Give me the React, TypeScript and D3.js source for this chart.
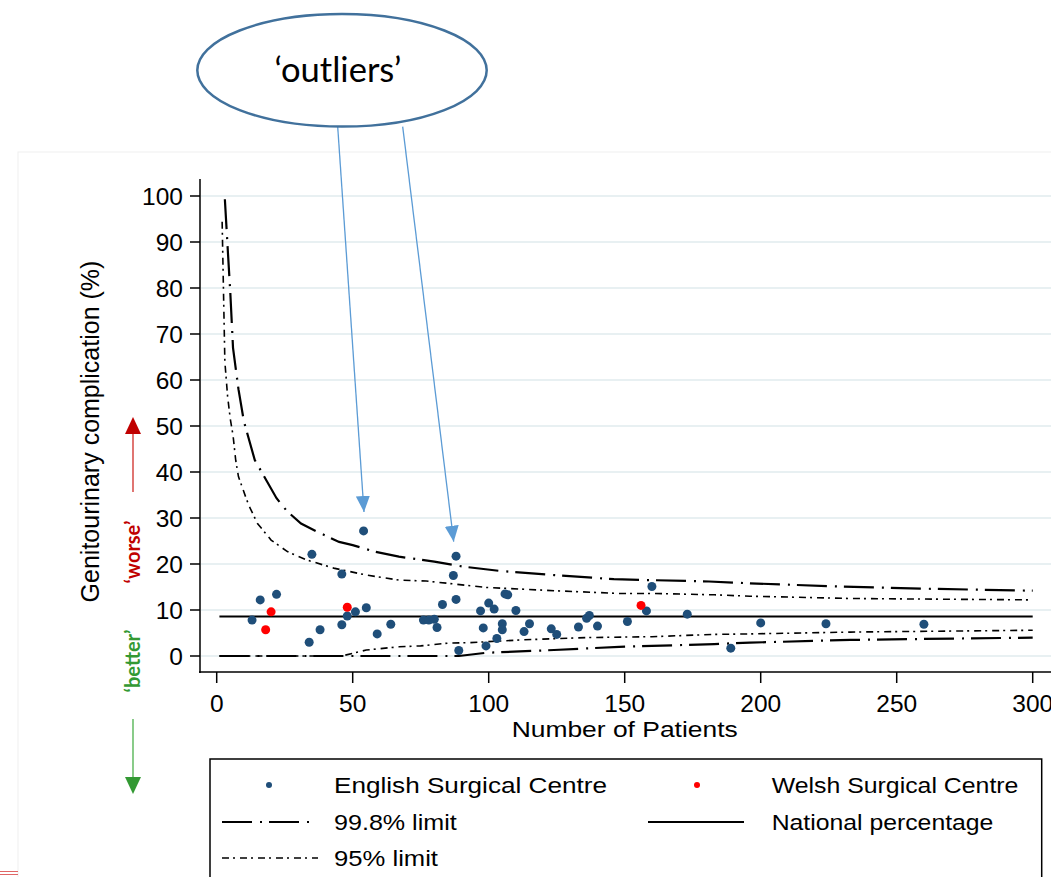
import React from "react";
import * as d3 from "d3";

// centres: number of patients and complication %
const englishN = [13, 16, 22, 35, 54, 46, 51, 55, 48, 46, 38, 34, 59, 64, 76, 78, 80, 81, 83, 88, 87, 88, 89, 97, 100, 102, 98, 99, 103, 105, 105, 106, 107, 110, 113, 115, 123, 125, 133, 136, 137, 140, 151, 158, 160, 173, 189, 200, 224, 260];
const englishPct = [7.8, 12.2, 13.4, 22.1, 27.2, 17.8, 9.6, 10.5, 8.7, 6.8, 5.7, 3.0, 4.8, 6.9, 7.8, 7.8, 8.0, 6.2, 11.2, 21.7, 17.5, 12.3, 1.2, 9.8, 11.5, 10.2, 6.1, 2.2, 3.8, 7.0, 5.7, 13.5, 13.3, 9.9, 5.3, 7.0, 5.9, 4.7, 6.3, 8.2, 8.8, 6.5, 7.5, 9.8, 15.1, 9.1, 1.7, 7.2, 7.0, 6.9];

const welshN = [20, 18, 48, 156];
const welshPct = [9.6, 5.7, 10.6, 11.0];

const nationalPct = 8.6;

// control limits
const upper998N = [3, 4, 5, 6, 8, 10, 14, 17, 22, 24, 26, 31, 37, 45, 50, 58, 67, 80, 91, 104, 124, 146, 159, 181, 196, 229, 263, 300];
const upper998Pct = [99.3, 89, 79, 67, 58, 51, 42.6, 39.5, 34.3, 32.8, 31.4, 28.8, 27, 24.8, 24.1, 22.7, 21.6, 20.5, 19.4, 18.5, 17.6, 16.7, 16.5, 16.2, 15.8, 15.1, 14.6, 14.2];
const lower998N = [1, 89, 99, 124, 148, 160, 183, 196, 233, 300];
const lower998Pct = [0, 0, 0.7, 1.3, 2.0, 2.2, 2.6, 2.9, 3.5, 4.0];

const upper95N = [2, 3, 4, 5, 6, 7, 8, 11, 12, 15, 20, 26, 33, 43, 55, 67, 77, 85, 99, 124, 148, 160, 183, 196, 233, 300];
const upper95Pct = [94.4, 64, 56.5, 51.5, 48, 42.5, 39, 34, 32.5, 28.8, 25.2, 22.7, 20.9, 19.1, 17.6, 16.5, 16.3, 15.8, 14.9, 14.2, 13.6, 13.6, 13.3, 13.0, 12.5, 12.2];
const lower95N = [1, 46, 55, 67, 75, 85, 93, 112, 136, 160, 183, 196, 233, 300];
const lower95Pct = [0, 0, 1.3, 2.0, 2.2, 2.8, 2.9, 3.5, 4.0, 4.2, 4.7, 4.8, 5.2, 5.6];

const xTicks = [0, 50, 100, 150, 200, 250, 300];
const yTicks = [0, 10, 20, 30, 40, 50, 60, 70, 80, 90, 100];

const ENGLISH = "#1f4e79";
const WELSH = "#ff0000";
const DASH998 = "30 8 2 7";
const DASH95 = "7 4 2 5";
const FONT = "'Liberation Sans', Arial, sans-serif";

const App = () => {
  const x = d3.scaleLinear().domain([0, 300]).range([216.7, 1032.7]);
  const y = d3.scaleLinear().domain([0, 100]).range([656, 196]);

  const line = d3
    .line<[number, number]>()
    .x((d) => x(d[0]))
    .y((d) => y(d[1]));
  const zip = (a: number[], b: number[]) => a.map((v, i) => [v, b[i]] as [number, number]);

  return (
    <svg
      width={1051}
      height={877}
      style={{ position: "absolute", left: 0, top: 0, background: "#fff" }}
      fontFamily={FONT}
    >
      <defs>
        <marker id="blueHead" viewBox="0 0 16 14" refX="16" refY="7" markerWidth="16" markerHeight="14" markerUnits="userSpaceOnUse" orient="auto">
          <path d="M0,0 L16,7 L0,14 Z" fill="#5b9bd5" />
        </marker>
      </defs>

      {/* faint graph region outline */}
      <rect x={18} y={152} width={1100} height={800} fill="none" stroke="#f0f0f0" />
      <line x1={0} x2={18} y1={871.5} y2={871.5} stroke="#e06666" />
      <line x1={0} x2={18} y1={874.5} y2={874.5} stroke="#e06666" />

      {/* gridlines */}
      {yTicks.map((t) => (
        <line key={"g" + t} x1={201} x2={1051} y1={y(t)} y2={y(t)} stroke="#e8f0f2" strokeWidth={2} />
      ))}

      {/* axes */}
      <line x1={200} x2={200} y1={179} y2={673} stroke="#000" strokeWidth={1.5} />
      <line x1={199} x2={1051} y1={672} y2={672} stroke="#000" strokeWidth={1.5} />
      {yTicks.map((t) => (
        <g key={"y" + t}>
          <line x1={190} x2={200} y1={y(t)} y2={y(t)} stroke="#000" strokeWidth={1.5} />
          <text x={183} y={y(t) + 9} textAnchor="end" fontSize={24.5}>{t}</text>
        </g>
      ))}
      {xTicks.map((t) => (
        <g key={"x" + t}>
          <line x1={x(t)} x2={x(t)} y1={672} y2={683} stroke="#000" strokeWidth={1.5} />
          <text x={x(t)} y={711.5} textAnchor="middle" fontSize={24.5}>{t}</text>
        </g>
      ))}
      <text x={x(150)} y={736.7} textAnchor="middle" fontSize={22.5} textLength={226} lengthAdjust="spacingAndGlyphs">
        Number of Patients
      </text>
      <text transform="translate(99,431.5) rotate(-90)" textAnchor="middle" fontSize={25}>
        Genitourinary complication (%)
      </text>

      {/* limits */}
      <path d={line(zip(upper998N, upper998Pct)) || ""} fill="none" stroke="#000" strokeWidth={2.2} strokeDasharray={DASH998} />
      <path d={line(zip(lower998N, lower998Pct)) || ""} fill="none" stroke="#000" strokeWidth={2.2} strokeDasharray={DASH998} />
      <path d={line(zip(upper95N, upper95Pct)) || ""} fill="none" stroke="#000" strokeWidth={1.6} strokeDasharray={DASH95} />
      <path d={line(zip(lower95N, lower95Pct)) || ""} fill="none" stroke="#000" strokeWidth={1.6} strokeDasharray={DASH95} />
      <line x1={x(1)} x2={x(300)} y1={y(nationalPct)} y2={y(nationalPct)} stroke="#000" strokeWidth={2} />

      {/* centres */}
      {englishN.map((n, i) => (
        <circle key={"e" + i} cx={x(n)} cy={y(englishPct[i])} r={4.5} fill={ENGLISH} />
      ))}
      {welshN.map((n, i) => (
        <circle key={"w" + i} cx={x(n)} cy={y(welshPct[i])} r={4.5} fill={WELSH} />
      ))}

      {/* worse / better */}
      <line x1={133} x2={133} y1={492} y2={432} stroke="#d9534f" strokeWidth={1.6} />
      <path d="M133,417 L125,434 L141,434 Z" fill="#c00000" />
      <text transform="translate(140,552) rotate(-90)" textAnchor="middle" fontSize={20} fontWeight="bold" fill="#c00000" fontFamily="Lato, sans-serif">
        ‘worse’
      </text>
      <text transform="translate(140,661) rotate(-90)" textAnchor="middle" fontSize={20} fontWeight="bold" fill="#339933" fontFamily="Lato, sans-serif">
        ‘better’
      </text>
      <line x1={133} x2={133} y1={719} y2={779} stroke="#6cbf6c" strokeWidth={1.6} />
      <path d="M133,794 L125,777 L141,777 Z" fill="#339933" />

      {/* outliers callout */}
      <line x1={337.7} y1={126.7} x2={364} y2={512} stroke="#5b9bd5" strokeWidth={1.3} markerEnd="url(#blueHead)" />
      <line x1={402.7} y1={126.7} x2={453.7} y2={541.7} stroke="#5b9bd5" strokeWidth={1.3} markerEnd="url(#blueHead)" />
      <ellipse cx={342} cy={70.3} rx={144.7} ry={56.3} fill="#fff" stroke="#41719c" strokeWidth={2.5} />
      <text x={338} y={81.5} textAnchor="middle" fontSize={34} fontFamily="Lato, sans-serif" textLength={127} lengthAdjust="spacingAndGlyphs">
        ‘outliers’
      </text>

      {/* legend */}
      <rect x={210} y={759} width={831.7} height={140} fill="#fff" stroke="#000" strokeWidth={1.5} />
      <circle cx={269} cy={785} r={3} fill={ENGLISH} />
      <text x={334} y={793.3} fontSize={22} textLength={273} lengthAdjust="spacingAndGlyphs">English Surgical Centre</text>
      <circle cx={697} cy={785} r={3} fill={WELSH} />
      <text x={771.7} y={793.3} fontSize={22} textLength={246.7} lengthAdjust="spacingAndGlyphs">Welsh Surgical Centre</text>
      <line x1={222} x2={312} y1={822} y2={822} stroke="#000" strokeWidth={2.2} strokeDasharray={DASH998} />
      <text x={334} y={830} fontSize={22} textLength={122.7} lengthAdjust="spacingAndGlyphs">99.8% limit</text>
      <line x1={648} x2={744} y1={822} y2={822} stroke="#000" strokeWidth={2} />
      <text x={771.7} y={830} fontSize={22} textLength={221.7} lengthAdjust="spacingAndGlyphs">National percentage</text>
      <line x1={222} x2={318} y1={858} y2={858} stroke="#000" strokeWidth={1.6} strokeDasharray={DASH95} />
      <text x={334} y={866} fontSize={22} textLength={104} lengthAdjust="spacingAndGlyphs">95% limit</text>
    </svg>
  );
};

export default App;
